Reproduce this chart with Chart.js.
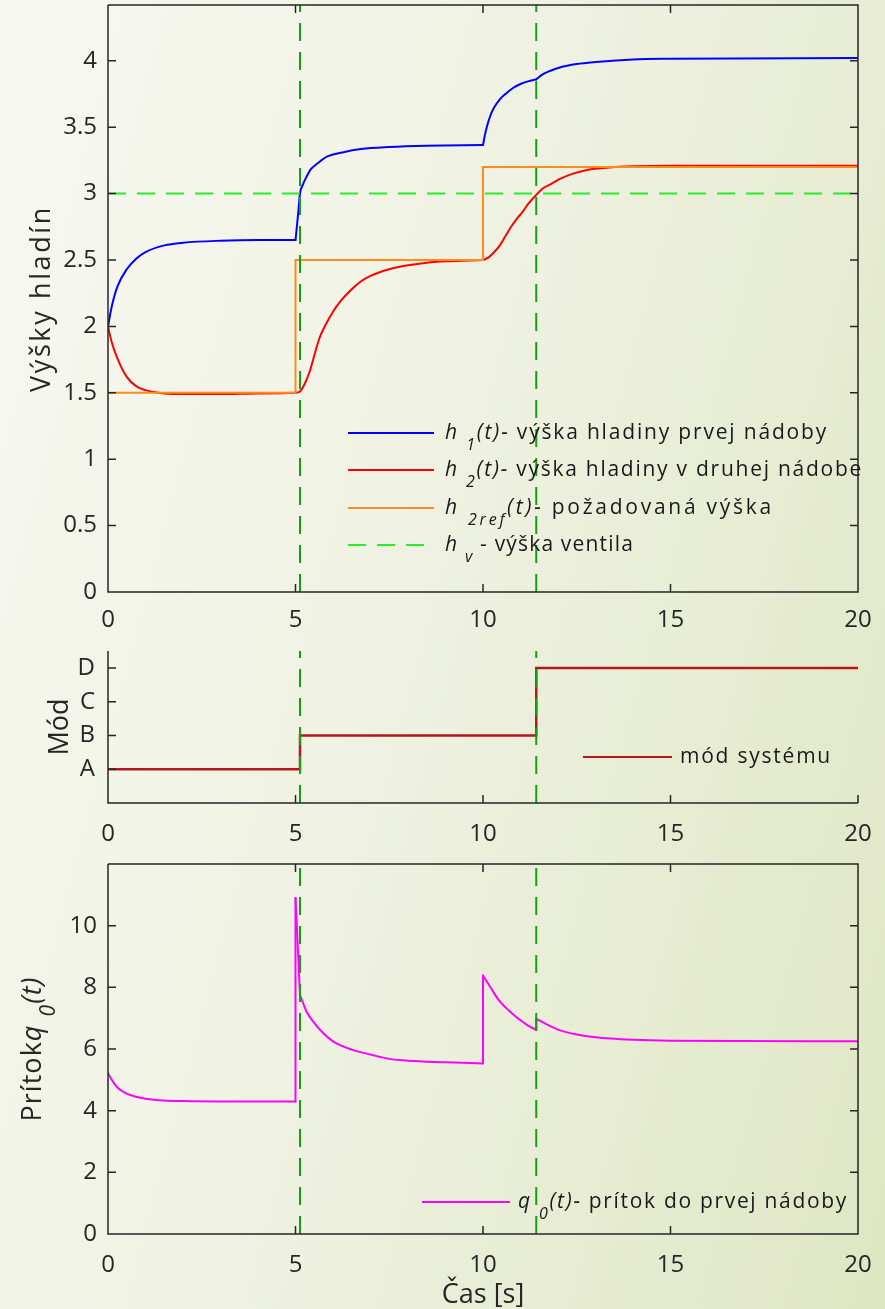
<!DOCTYPE html>
<html>
<head>
<meta charset="utf-8">
<script src="https://cdn.jsdelivr.net/npm/chart.js@4.4.1/dist/chart.umd.min.js"></script>
<style>
  html, body { margin: 0; padding: 0; }
  body {
    width: 885px; height: 1309px; overflow: hidden; position: relative;
    background: linear-gradient(105deg, #f7f8f1 0%, #eff2e2 45%, #dfe6c3 100%);
  }
  canvas { position: absolute; left: 0; }
</style>
</head>
<body>
<canvas id="levelChart" width="885" height="640" style="top:0px"></canvas>
<canvas id="modeChart" width="885" height="210" style="top:640px"></canvas>
<canvas id="flowChart" width="885" height="459" style="top:850px"></canvas>
<script>
// --- data ---
const xTicks = [0, 5, 10, 15, 20];
const switchTimes = [5.12, 11.42];
const valveLevel = 3;

const levelTicks = [0, 0.5, 1, 1.5, 2, 2.5, 3, 3.5, 4];
const levelMax = 4.42;

const h1Time = [0, 0.1, 0.25, 0.5, 0.75, 1, 1.5, 2, 3, 4,
  5, 5.04, 5.08, 5.12, 5.2, 5.3, 5.4, 5.6, 5.85, 6.25, 6.75, 7.5, 8.5,
  10, 10.05, 10.1, 10.2, 10.3, 10.45, 10.6, 10.8, 11, 11.2, 11.42,
  11.6, 11.8, 12.05, 12.5, 13, 14, 15, 20];
const h1Values = [2.0, 2.15, 2.3, 2.43, 2.51, 2.56, 2.61, 2.63, 2.645, 2.65,
  2.65, 2.76, 2.88, 3.0, 3.07, 3.13, 3.18, 3.23, 3.28, 3.31, 3.335, 3.35, 3.36,
  3.365, 3.44, 3.5, 3.59, 3.65, 3.71, 3.75, 3.795, 3.825, 3.845, 3.86,
  3.9, 3.925, 3.95, 3.975, 3.99, 4.01, 4.015, 4.02];
const h1Corners = [5, 10, 11.42];

const h2Time = [0, 0.1, 0.25, 0.5, 0.75, 1, 1.5, 2, 3, 4,
  5, 5.12, 5.25, 5.39, 5.52, 5.65, 5.8, 6, 6.2, 6.5,
  6.75, 7, 7.5, 8, 8.5, 9, 10,
  10.15, 10.3, 10.45, 10.6, 10.75, 10.9, 11.05, 11.2, 11.42,
  11.6, 11.8, 12.05, 12.4, 12.8, 13.3, 14, 15, 20];
const h2Values = [2.0, 1.88, 1.76, 1.62, 1.55, 1.52, 1.495, 1.49, 1.49, 1.495,
  1.5, 1.51, 1.57, 1.67, 1.8, 1.92, 2.01, 2.11, 2.19, 2.28,
  2.34, 2.38, 2.43, 2.46, 2.48, 2.49, 2.5,
  2.52, 2.56, 2.61, 2.68, 2.75, 2.81, 2.86, 2.92, 2.99,
  3.04, 3.07, 3.11, 3.15, 3.18, 3.195, 3.205, 3.21, 3.21];
const h2Corners = [10];

const refTime = [0, 5, 10, 20];
const refValues = [1.5, 2.5, 3.2, 3.2];

const modeTime = [0, 5.12, 11.42, 20];
const modeValues = [1, 2, 4, 4];
const modeLabels = ["A", "B", "C", "D"];
const modeTicks = [1, 2, 3, 4];
const modeMax = 4.5;

const q0Time = [0, 0.1, 0.25, 0.5, 0.75, 1, 1.5, 2, 3, 5,
  5, 5.12, 5.3, 5.5, 5.75, 6, 6.5, 7, 7.5, 8,
  9, 10, 10, 10.2, 10.4, 10.6, 10.8, 11, 11.2, 11.42,
  11.42, 11.7, 12, 12.5, 13, 14, 15, 20];
const q0Values = [5.22, 5.0, 4.75, 4.55, 4.45, 4.39, 4.33, 4.31, 4.3, 4.3,
  10.9, 7.75, 7.2, 6.85, 6.5, 6.25, 5.98, 5.82, 5.68, 5.62,
  5.57, 5.53, 8.38, 8.0, 7.62, 7.35, 7.13, 6.93, 6.76, 6.62,
  6.98, 6.8, 6.63, 6.47, 6.38, 6.3, 6.27, 6.25];
const q0Corners = [5, 5.12, 10, 11.42];
const flowTicks = [0, 2, 4, 6, 8, 10];
const flowMax = 12;

// --- styling ---
const FONT = '"Open Sans", "DejaVu Sans", sans-serif';
const INK = "#262626";
const C_H1 = "#0000ff", C_H2 = "#ff0000", C_REF = "#ff8c1a";
const C_MODE = "#b3191c", C_Q0 = "#ff00ff";
const C_SWITCH = "#14a014", C_VALVE = "#2aec2a";
const DASH = [18, 11];
const TICK_LEN = 8;

const fontStr = (size, italic) => `${italic ? "italic " : ""}${size}px ${FONT}`;

function points(xs, ys) {
  return xs.map((x, i) => ({ x: x, y: ys[i] }));
}

function series(xs, ys, color, extra) {
  return Object.assign({
    data: points(xs, ys),
    borderColor: color,
    borderWidth: 2,
    pointRadius: 0,
    fill: false,
    order: 2
  }, extra || {});
}

// smooth curve, cut into pieces at the corners so jumps and kinks stay sharp
function curve(xs, ys, color, corners) {
  const pieces = [];
  let cur = { xs: [], ys: [] };
  xs.forEach((x, i) => {
    cur.xs.push(x);
    cur.ys.push(ys[i]);
    if (corners.includes(x) && cur.xs.length > 1) {
      pieces.push(cur);
      cur = { xs: [x], ys: [ys[i]] };
    }
  });
  if (cur.xs.length > 1) pieces.push(cur);
  return pieces.map(p => series(p.xs, p.ys, color, {
    cubicInterpolationMode: "monotone", borderCapStyle: "round", borderJoinStyle: "round"
  }));
}

function switchLines(max) {
  return switchTimes.map(t => series([t, t], [0, max], C_SWITCH, { borderDash: DASH, order: 0 }));
}

// text made of normal / italic / subscript pieces
function drawRich(ctx, parts, x, y, size, target) {
  const subSize = Math.round(size * 0.78);
  const drop = Math.round(size * 0.5);
  ctx.letterSpacing = "0px";
  let natural = 0, count = 0;
  parts.forEach(p => {
    ctx.font = fontStr(p.sub ? subSize : size, p.it);
    natural += ctx.measureText(p.t).width;
    count += p.t.length;
  });
  const sp = target ? Math.max(0, (target - natural) / count) : 0;
  if (x === null) x = -(natural + sp * count) / 2;
  parts.forEach(p => {
    ctx.font = fontStr(p.sub ? subSize : size, p.it);
    const w = ctx.measureText(p.t).width;
    ctx.letterSpacing = sp + "px";
    ctx.fillText(p.t, x, y + (p.sub ? drop : 0));
    ctx.letterSpacing = "0px";
    x += w + sp * p.t.length;
  });
}

const framePlugin = {
  id: "frame",
  afterDatasetsDraw(chart, args, opts) {
    const { ctx, chartArea: a, scales } = chart;
    ctx.save();
    ctx.strokeStyle = INK;
    ctx.lineWidth = 1.5;
    ctx.beginPath();
    ctx.moveTo(a.left, a.top);
    ctx.lineTo(a.left, a.bottom);
    ctx.lineTo(a.right, a.bottom);
    if (opts.box) {
      ctx.lineTo(a.right, a.top);
      ctx.lineTo(a.left, a.top);
    }
    scales.x.ticks.forEach(t => {
      const px = scales.x.getPixelForValue(t.value);
      ctx.moveTo(px, a.bottom);
      ctx.lineTo(px, a.bottom - TICK_LEN);
      if (opts.box) {
        ctx.moveTo(px, a.top);
        ctx.lineTo(px, a.top + TICK_LEN);
      }
    });
    scales.y.ticks.forEach(t => {
      const py = scales.y.getPixelForValue(t.value);
      ctx.moveTo(a.left, py);
      ctx.lineTo(a.left + TICK_LEN, py);
      if (opts.box) {
        ctx.moveTo(a.right, py);
        ctx.lineTo(a.right - TICK_LEN, py);
      }
    });
    ctx.stroke();
    ctx.restore();
  }
};

const keyPlugin = {
  id: "key",
  afterDraw(chart, args, opts) {
    const ctx = chart.ctx;
    ctx.save();
    opts.items.forEach(it => {
      ctx.beginPath();
      ctx.strokeStyle = it.color;
      ctx.lineWidth = 2;
      ctx.setLineDash(it.dash || []);
      ctx.moveTo(it.x1, it.y);
      ctx.lineTo(it.x2, it.y);
      ctx.stroke();
      ctx.setLineDash([]);
      ctx.fillStyle = "#1a1a1a";
      ctx.textBaseline = "alphabetic";
      drawRich(ctx, it.parts, it.tx, it.y + 6, 21, it.end - it.tx);
    });
    ctx.restore();
  }
};

const titlePlugin = {
  id: "titles",
  afterDraw(chart, args, opts) {
    const { ctx, chartArea: a } = chart;
    ctx.save();
    ctx.fillStyle = INK;
    ctx.textBaseline = "alphabetic";
    if (opts.y) {
      ctx.save();
      ctx.translate(opts.y.x, (a.top + a.bottom) / 2);
      ctx.rotate(-Math.PI / 2);
      drawRich(ctx, opts.y.parts, null, 0, 27, opts.y.len);
      ctx.restore();
    }
    if (opts.x) {
      ctx.save();
      ctx.translate((a.left + a.right) / 2, opts.x.y);
      drawRich(ctx, opts.x.parts, null, 0, 27, 0);
      ctx.restore();
    }
    ctx.restore();
  }
};

function xAxis(height, pad) {
  return {
    type: "linear", min: 0, max: 20,
    grid: { display: false, drawTicks: false }, border: { display: false },
    afterBuildTicks: s => { s.ticks = xTicks.map(v => ({ value: v })); },
    ticks: { font: { family: FONT, size: 24 }, color: INK, padding: pad, maxRotation: 0, autoSkip: false },
    afterFit: s => { s.height = height; s.paddingLeft = 0; s.paddingRight = 0; }
  };
}

function yAxis(max, tickValues, pad, label) {
  return {
    type: "linear", min: 0, max: max,
    grid: { display: false, drawTicks: false }, border: { display: false },
    afterBuildTicks: s => { s.ticks = tickValues.map(v => ({ value: v })); },
    ticks: {
      font: { family: FONT, size: 24 }, color: INK, padding: pad, autoSkip: false,
      callback: label || (v => String(v))
    },
    afterFit: s => { s.width = 108; s.paddingTop = 0; s.paddingBottom = 0; }
  };
}

function makeChart(id, cfg) {
  return new Chart(document.getElementById(id), {
    type: "line",
    data: { datasets: cfg.datasets },
    options: {
      responsive: false,
      animation: false,
      events: [],
      layout: { padding: { left: 0, right: 27, top: cfg.top, bottom: 0 } },
      scales: { x: cfg.x, y: cfg.y },
      plugins: {
        legend: { display: false },
        tooltip: { enabled: false },
        frame: { box: cfg.box },
        key: { items: cfg.key },
        titles: cfg.titles
      }
    },
    plugins: [framePlugin, keyPlugin, titlePlugin]
  });
}

// --- upper plot: levels ---
makeChart("levelChart", {
  top: 5,
  box: true,
  x: xAxis(48, 14),
  y: yAxis(levelMax, levelTicks, 11),
  datasets: [
    series([0, 20], [valveLevel, valveLevel], C_VALVE, { borderDash: DASH, order: 1 }),
    ...switchLines(levelMax),
    series(refTime, refValues, C_REF, { stepped: "before" }),
    ...curve(h2Time, h2Values, C_H2, h2Corners),
    ...curve(h1Time, h1Values, C_H1, h1Corners)
  ],
  key: [
    { color: C_H1, x1: 348, x2: 434, y: 433, tx: 445, end: 828,
      parts: [{ t: "h", it: 1 }, { t: " " }, { t: "1", it: 1, sub: 1 }, { t: "(t)-", it: 1 }, { t: " výška hladiny prvej nádoby" }] },
    { color: C_H2, x1: 348, x2: 434, y: 470, tx: 445, end: 863,
      parts: [{ t: "h", it: 1 }, { t: " " }, { t: "2", it: 1, sub: 1 }, { t: "(t)-", it: 1 }, { t: " výška hladiny v druhej nádobe" }] },
    { color: C_REF, x1: 348, x2: 434, y: 508, tx: 445, end: 774,
      parts: [{ t: "h", it: 1 }, { t: " " }, { t: "2ref", it: 1, sub: 1 }, { t: "(t)-", it: 1 }, { t: " požadovaná výška" }] },
    { color: C_VALVE, dash: DASH, x1: 348, x2: 434, y: 545, tx: 445, end: 634,
      parts: [{ t: "h", it: 1 }, { t: " " }, { t: "v", it: 1, sub: 1 }, { t: " - výška ventila" }] }
  ],
  titles: { y: { x: 50, len: 187, parts: [{ t: "Výšky hladín" }] } }
});

// --- middle plot: mode ---
makeChart("modeChart", {
  top: 11,
  box: false,
  x: xAxis(47, 17),
  y: yAxis(modeMax, modeTicks, 13, v => modeLabels[v - 1] || ""),
  datasets: [
    ...switchLines(modeMax),
    series(modeTime, modeValues, C_MODE, { stepped: "before", borderWidth: 2.5 })
  ],
  key: [
    { color: C_MODE, x1: 583, x2: 672, y: 117, tx: 680, end: 832,
      parts: [{ t: "mód systému" }] }
  ],
  titles: { y: { x: 68, len: 0, parts: [{ t: "Mód" }] } }
});

// --- lower plot: inflow ---
makeChart("flowChart", {
  top: 14,
  box: true,
  x: xAxis(75, 17),
  y: yAxis(flowMax, flowTicks, 11),
  datasets: [
    ...switchLines(flowMax),
    ...curve(q0Time, q0Values, C_Q0, q0Corners)
  ],
  key: [
    { color: C_Q0, x1: 422, x2: 510, y: 352, tx: 518, end: 848,
      parts: [{ t: "q", it: 1 }, { t: " " }, { t: "0", it: 1, sub: 1 }, { t: "(t)-", it: 1 }, { t: " prítok do prvej nádoby" }] }
  ],
  titles: {
    y: { x: 41, len: 145, parts: [{ t: "Prítok" }, { t: "q", it: 1 }, { t: " " }, { t: "0", it: 1, sub: 1 }, { t: "(t)", it: 1 }] },
    x: { y: 453, parts: [{ t: "Čas [s]" }] }
  }
});
</script>
</body>
</html>
